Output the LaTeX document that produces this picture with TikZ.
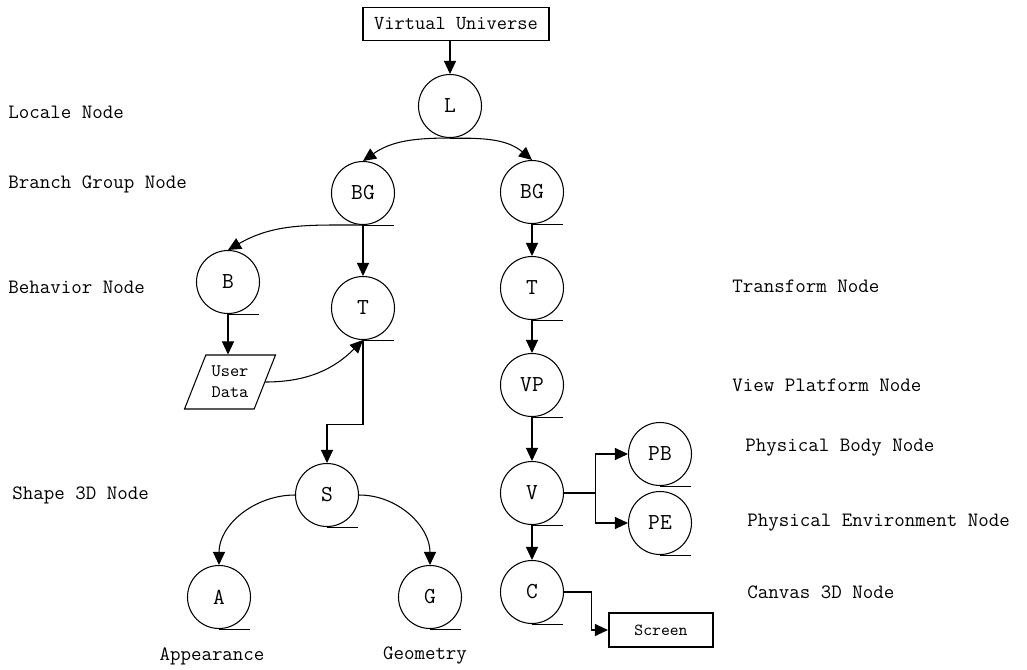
\documentclass[tikz,border=0pt]{standalone}
\usepackage{fontspec}
\usepackage{tikz}
\usetikzlibrary{positioning,arrows.meta,shapes.geometric}
\tikzset{
  flowarrow/.style={-{Triangle[length=2.6mm,width=2.4mm]}, line width=0.6pt},
  scnode/.style={draw, circle, line width=0.6pt, minimum size=1.26cm, inner sep=0pt, font=\ttfamily\fontsize{13}{15}\selectfont},
  tailline/.style={line width=0.6pt},
  udnode/.style={draw, trapezium, trapezium left angle=63, trapezium right angle=117, trapezium stretches=true, line width=0.6pt, minimum width=1.82cm, minimum height=1.08cm, inner sep=0pt, align=center, font=\ttfamily\fontsize{10}{12}\selectfont},
  termbox/.style={draw, line width=0.6pt, minimum width=3.72cm, minimum height=0.66cm, inner sep=0pt, font=\ttfamily\fontsize{11.3}{13}\selectfont},
  lbl/.style={font=\ttfamily\fontsize{11.6}{14}\selectfont, inner sep=0pt, anchor=west}
}

\begin{document}
\begin{tikzpicture}[>=Latex]
  \useasboundingbox (0,0) rectangle (20.54,-13.38);

  % scene graph nodes
  \node[termbox] (vu) at (9.12,-0.48) {Virtual Universe};
  \node[scnode] (L) at (9.0,-2.12) {L};
  \node[scnode] (BGa) at (7.26,-3.86) {BG};
  \node[scnode] (BGb) at (10.64,-3.84) {BG};
  \node[scnode] (B) at (4.56,-5.64) {B};
  \node[scnode] (Ta) at (7.26,-6.16) {T};
  \node[scnode] (Tb) at (10.64,-5.76) {T};
  \node[udnode] (ud) at (4.6,-7.64) {User\\Data};
  \node[scnode] (VP) at (10.64,-7.7) {VP};
  \node[scnode] (S) at (6.54,-9.9) {S};
  \node[scnode] (V) at (10.64,-9.86) {V};
  \node[scnode] (PB) at (13.2,-9.08) {PB};
  \node[scnode] (PE) at (13.2,-10.46) {PE};
  \node[scnode] (A) at (4.38,-11.94) {A};
  \node[scnode] (G) at (8.6,-11.94) {G};
  \node[scnode] (C) at (10.64,-11.84) {C};
  \node[termbox, line width=1.2pt, minimum width=2.08cm, minimum height=0.68cm, font=\ttfamily\fontsize{9.6}{11}\selectfont] (scr) at (13.22,-12.6) {Screen};

  % little tails under the circles
  \foreach \n in {L,BGa,BGb,B,Ta,Tb,VP,S,V,PB,PE,A,G,C}
    \draw[tailline] (\n.south) -- ++(0.62,0);

  % connectors
  \draw[flowarrow] (vu.south -| L.north) -- (L.north);
  \draw[flowarrow] (L.south) to[out=180,in=35] (BGa.north);
  \draw[flowarrow] (L.south) to[out=0,in=140] (BGb.north);
  \draw[flowarrow] (BGa.south) to[out=180,in=30] (B.north);
  \draw[flowarrow] (BGa.south) -- (Ta.north);
  \draw[flowarrow] (B.south) -- (B.south |- ud.north);
  \draw[flowarrow] (ud.east) to[out=0,in=225] (Ta.south);
  \draw[flowarrow] (Ta.south) -- ++(0,-1.68) -| (S.north);
  \draw[flowarrow] (S.west) to[out=180,in=90] (A.north);
  \draw[flowarrow] (S.east) to[out=0,in=90] (G.north);
  \draw[flowarrow] (BGb.south) -- (Tb.north);
  \draw[flowarrow] (Tb.south) -- (VP.north);
  \draw[flowarrow] (VP.south) -- (V.north);
  \draw[flowarrow] (V.south) -- (C.north);
  \draw[flowarrow] (V.east) -- ++(0.62,0) |- (PB.west);
  \draw[flowarrow] (V.east) -- ++(0.62,0) |- (PE.west);
  \draw[flowarrow] (C.east) -- ++(0.54,0) |- (scr.west);

  % level labels
  \node[lbl] (lLocale) at (0.16,-2.24) {Locale Node};
  \node[lbl] (lBranch) at (0.16,-3.68) {Branch Group Node};
  \node[lbl] (lBehav) at (0.16,-5.74) {Behavior Node};
  \node[lbl] (lShape) at (0.24,-9.9) {Shape 3D Node};
  \node[lbl] (lTrans) at (14.64,-5.72) {Transform Node};
  \node[lbl] (lView) at (14.64,-7.7) {View Platform Node};
  \node[lbl] (lBody) at (14.9,-8.96) {Physical Body Node};
  \node[lbl] (lEnv) at (14.94,-10.46) {Physical Environment Node};
  \node[lbl] (lCanvas) at (14.94,-11.84) {Canvas 3D Node};
  \node[lbl, anchor=center] (lApp) at (4.24,-13.12) {Appearance};
  \node[lbl, anchor=center] (lGeo) at (8.5,-13.1) {Geometry};
\end{tikzpicture}
\end{document}
